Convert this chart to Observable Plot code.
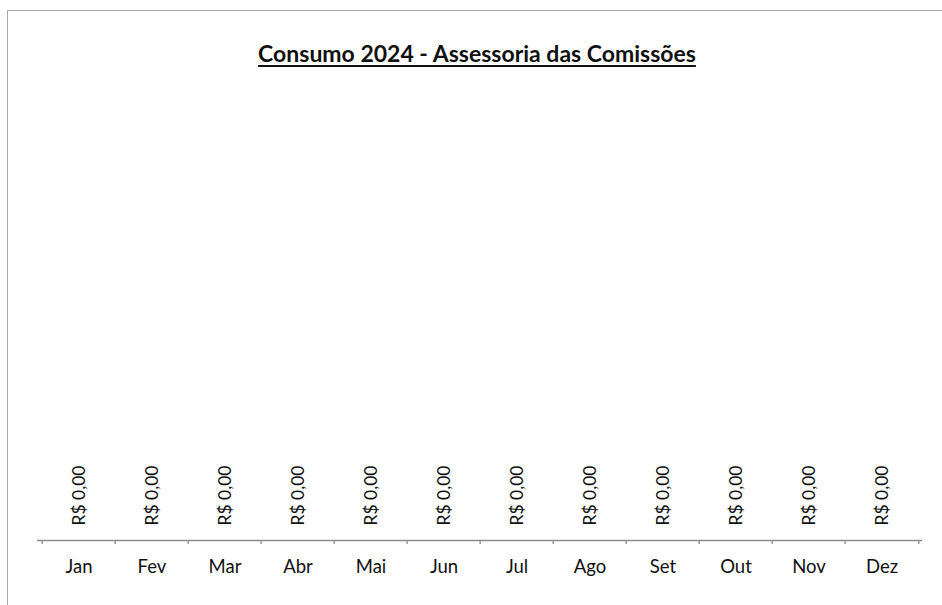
<!DOCTYPE html>
<html>
<head>
<meta charset="utf-8">
<script src="https://cdn.jsdelivr.net/npm/d3@7"></script>
<script src="https://cdn.jsdelivr.net/npm/@observablehq/plot@0.6"></script>
<style>
  html, body { margin: 0; padding: 0; background: #fff; overflow: hidden; }
  body { width: 942px; height: 605px; position: relative; font-family: Lato, "Open Sans", sans-serif; }
  #frame { position: absolute; left: 7px; top: 10px; width: 935px; height: 595px; border-top: 1.5px solid #a8a8a8; border-left: 1.5px solid #a8a8a8; box-sizing: border-box; pointer-events: none; }
  #title { position: absolute; left: 0; top: 0; width: 954px; height: 80px; text-align: center; }
  #title span { display: inline-block; margin-top: 39px; font: bold 23px Lato, sans-serif; color: #111; text-decoration: underline; text-underline-offset: 3px; text-decoration-thickness: 2px; }
  #chart { position: absolute; left: 0; top: 80px; }
</style>
</head>
<body>
<div id="frame"></div>
<div id="title"><span>Consumo 2024 - Assessoria das Comissões</span></div>
<div id="chart"></div>
<script>
const months = ["Jan", "Fev", "Mar", "Abr", "Mai", "Jun", "Jul", "Ago", "Set", "Out", "Nov", "Dez"];
const values = [0, 0, 0, 0, 0, 0, 0, 0, 0, 0, 0, 0];

const data = months.map((m, i) => ({month: m, value: values[i]}));
const fmt = v => "R$ " + v.toFixed(2).replace(".", ",");

const width = 942, height = 525;
const marginLeft = 37, marginRight = 20, marginBottom = 65, marginTop = 20;
const step = (width - marginLeft - marginRight) / months.length;

const chart = Plot.plot({
  width, height, marginLeft, marginRight, marginBottom, marginTop,
  x: {domain: months, padding: 0, label: null},
  y: {domain: [0, 1], axis: null},
  style: {fontFamily: "Lato, 'Open Sans', sans-serif", background: "transparent"},
  marks: [
    Plot.barY(data, {x: "month", y: "value", fill: "#4f81bd", insetLeft: 10, insetRight: 10}),
    Plot.ruleY([0], {stroke: "#8c8c8c", strokeWidth: 1.3}),
    Plot.axisX({tickSize: 4, tickFormat: null, dx: -step / 2, stroke: "#8c8c8c", strokeWidth: 1.3}),
    Plot.axisX({ticks: [months[months.length - 1]], tickSize: 4, tickFormat: null, dx: step / 2, stroke: "#8c8c8c", strokeWidth: 1.3}),
    Plot.axisX({tickSize: 0, tickPadding: 19, fontSize: 18.5, fill: "#111", label: null}),
    Plot.text(data, {x: "month", y: "value", text: d => fmt(d.value), rotate: -90, textAnchor: "start", lineAnchor: "middle", dy: -15, fontSize: 17.5, fill: "#111"})
  ]
});
document.getElementById("chart").appendChild(chart);
</script>
</body>
</html>
